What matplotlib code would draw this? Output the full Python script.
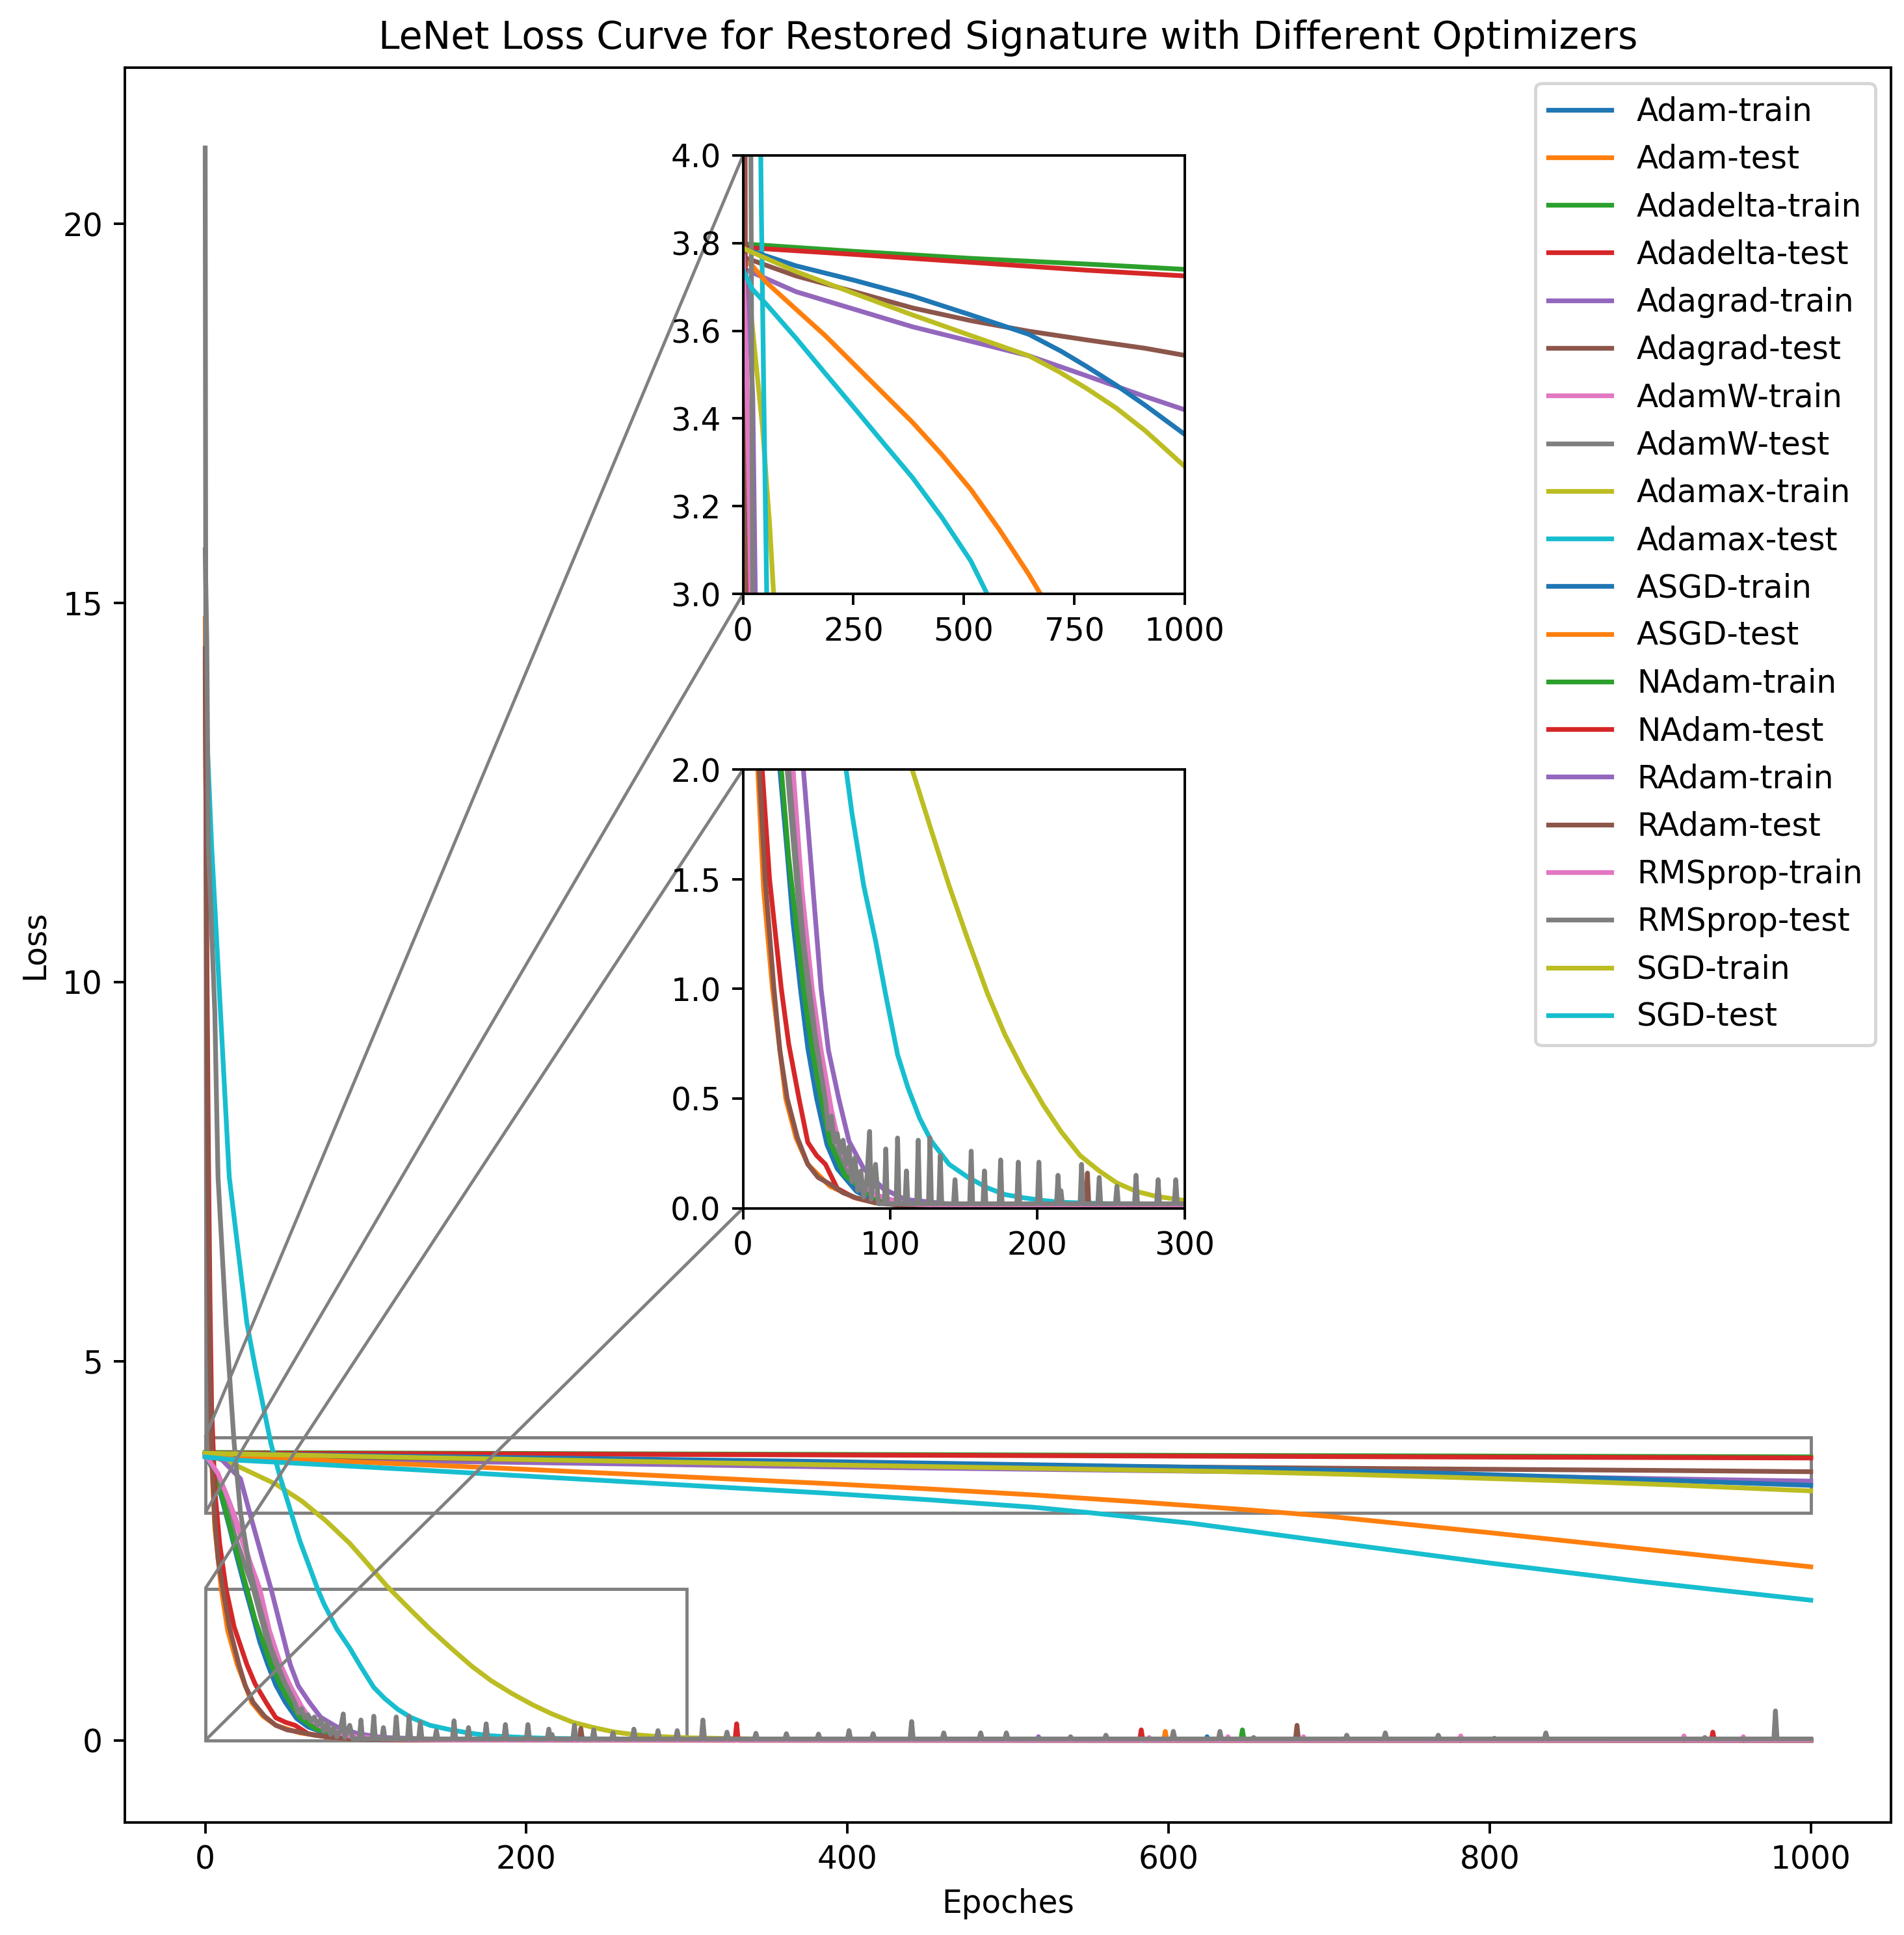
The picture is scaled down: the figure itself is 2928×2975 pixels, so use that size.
import matplotlib.pyplot as plt
from mpl_toolkits.axes_grid1.inset_locator import mark_inset

# loss values (epoch, loss) for each curve
adam_train_ep = [0, 5, 10, 15, 20, 25, 30, 34, 39, 44, 50, 57, 64, 77, 90, 110, 150, 1000]
adam_train_loss = [3.78, 3.56, 3.22, 2.82, 2.4, 2.0, 1.62, 1.3, 1.0, 0.73, 0.5, 0.29, 0.18, 0.077, 0.03, 0.012, 0.006, 0.003]
adam_train_spk = ([624], [0.05])

adam_test_ep = [0, 1, 2, 3, 4, 6, 10, 14, 20, 29, 36, 44, 59, 77, 90, 120, 1000]
adam_test_loss = [14.8, 9.3, 6.5, 4.8, 3.7, 2.8, 2.0, 1.45, 1.0, 0.5, 0.32, 0.2, 0.1, 0.045, 0.025, 0.012, 0.003]
adam_test_spk = ([598], [0.12])

adadelta_train_ep = [0, 252, 516, 779, 1000]
adadelta_train_loss = [3.798, 3.781, 3.765, 3.752, 3.740]

adadelta_test_ep = [0, 252, 516, 779, 1000]
adadelta_test_loss = [3.790, 3.774, 3.756, 3.738, 3.725]

adagrad_train_ep = [0, 120, 252, 384, 516, 647, 779, 911, 1000]
adagrad_train_loss = [3.742, 3.689, 3.649, 3.609, 3.576, 3.543, 3.497, 3.450, 3.420]

adagrad_test_ep = [0, 120, 252, 384, 516, 647, 779, 911, 1000]
adagrad_test_loss = [3.768, 3.725, 3.689, 3.652, 3.623, 3.599, 3.579, 3.560, 3.544]

adamw_train_ep = [0, 8, 15, 22, 28, 33, 40, 46, 52, 59, 64, 70, 77, 90, 110, 150, 1000]
adamw_train_loss = [3.77, 3.5, 3.1, 2.7, 2.3, 2.0, 1.4, 1.0, 0.75, 0.45, 0.3, 0.2, 0.14, 0.06, 0.02, 0.008, 0.004]
adamw_train_spk = ([588, 637, 684], [0.04, 0.05, 0.05])

adamw_test_ep = [0, 1, 10, 20, 30, 40, 50, 60, 75, 90, 120, 200, 1000]
adamw_test_loss = [21.0, 3.8, 3.3, 2.6, 2.0, 1.2, 0.6, 0.3, 0.12, 0.05, 0.015, 0.006, 0.003]

adamax_train_ep = [0, 19, 44, 60, 75, 90, 100, 113, 128, 140, 153, 166, 178, 191, 204, 216,
                   229, 242, 254, 267, 280, 299, 350, 400, 500, 1000]
adamax_train_loss = [3.78, 3.63, 3.38, 3.16, 2.9, 2.6, 2.36, 2.04, 1.72, 1.47, 1.22, 0.98, 0.79, 0.62, 0.47, 0.35,
                     0.24, 0.17, 0.115, 0.077, 0.055, 0.036, 0.018, 0.01, 0.005, 0.002]

adamax_test_ep = [0, 1, 4, 15, 26, 31, 41, 47, 59, 70, 74, 82, 90, 97, 105, 112, 120, 128, 140,
                  153, 166, 178, 191, 204, 216, 250, 300, 400, 600, 1000]
adamax_test_loss = [14.0, 13.3, 11.8, 7.43, 5.5, 4.94, 3.91, 3.45, 2.63, 2.0, 1.8, 1.47, 1.22, 0.97, 0.7, 0.55, 0.41, 0.305, 0.2,
                    0.14, 0.093, 0.062, 0.047, 0.035, 0.027, 0.02, 0.015, 0.01, 0.006, 0.004]

asgd_train_ep = [0, 120, 252, 384, 516, 647, 721, 779, 845, 911, 1000]
asgd_train_loss = [3.788, 3.748, 3.715, 3.679, 3.636, 3.592, 3.553, 3.518, 3.476, 3.430, 3.364]

asgd_test_ep = [0, 21, 54, 120, 186, 252, 318, 384, 450, 516, 581, 647, 700, 800, 893, 1000]
asgd_test_loss = [3.76, 3.748, 3.709, 3.649, 3.589, 3.523, 3.457, 3.391, 3.318, 3.238, 3.146, 3.045, 2.955, 2.74, 2.53,
                  2.29]

nadam_train_ep = [0, 5, 10, 15, 20, 26, 31, 36, 41, 47, 53, 59, 69, 90, 110, 150, 1000]
nadam_train_loss = [3.79, 3.58, 3.25, 2.85, 2.45, 2.0, 1.6, 1.3, 1.0, 0.72, 0.5, 0.3, 0.15, 0.04, 0.015, 0.006, 0.003]
nadam_train_spk = ([646], [0.14])

nadam_test_ep = [0, 1, 2, 3, 4, 6, 9, 13, 18, 26, 31, 38, 44, 50, 56, 64, 75, 90, 110, 150, 1000]
nadam_test_loss = [14.2, 10.5, 7.8, 5.8, 4.4, 3.3, 2.6, 2.0, 1.5, 1.0, 0.75, 0.5, 0.3, 0.24, 0.2, 0.09, 0.05, 0.025, 0.012, 0.006, 0.003]
nadam_test_spk = ([331, 583, 939], [0.22, 0.14, 0.11])

radam_train_ep = [0, 10, 22, 28, 35, 41, 47, 53, 58, 65, 72, 82, 95, 110, 150, 1000]
radam_train_loss = [3.76, 3.71, 3.45, 2.98, 2.45, 2.0, 1.5, 1.0, 0.72, 0.5, 0.305, 0.18, 0.09, 0.04, 0.012, 0.004]
radam_train_spk = ([519], [0.05])

radam_test_ep = [0, 1, 2, 3, 4, 6, 8, 11, 15, 21, 25, 30, 37, 44, 51, 59, 68, 77, 90, 110, 150, 250, 1000]
radam_test_loss = [14.4, 9.8, 6.9, 5.0, 3.8, 2.9, 2.4, 2.0, 1.5, 1.0, 0.72, 0.5, 0.32, 0.2, 0.14, 0.11, 0.07, 0.047, 0.024, 0.012, 0.006, 0.004, 0.003]
radam_test_spk = ([234, 680], [0.16, 0.2])

rmsprop_train_ep = [0, 8, 15, 22, 28, 34, 40, 47, 53, 60, 65, 71, 78, 90, 110, 150, 1000]
rmsprop_train_loss = [3.77, 3.52, 3.15, 2.75, 2.35, 2.0, 1.45, 1.0, 0.72, 0.45, 0.3, 0.2, 0.13, 0.06, 0.02, 0.008, 0.004]
rmsprop_train_spk = ([782, 921, 958], [0.06, 0.06, 0.05])

rmsprop_test_ep = [0, 1, 2, 6, 8, 13, 18, 22, 28, 31, 36, 41, 49, 56, 58, 60, 62, 64, 66, 68, 70,
                   72, 74, 76, 78, 80, 82, 84, 86, 87, 90, 92, 1000]
rmsprop_test_loss = [15.7, 14.5, 11.8, 9.6, 7.43, 5.5, 3.93, 3.0, 2.24, 2.0, 1.6, 1.22, 0.79, 0.49, 0.36, 0.42, 0.3, 0.34, 0.25, 0.31, 0.2,
                     0.28, 0.12, 0.23, 0.08, 0.17, 0.05, 0.12, 0.35, 0.04, 0.2, 0.02, 0.02]
rmsprop_test_spk = ([97, 105, 111, 119, 127, 134, 144, 155, 164, 175, 187, 201, 214, 216, 230, 242, 254, 267,
                     282, 294, 310, 325, 343, 362, 382, 401, 416, 440, 460, 483, 499, 539, 561, 603, 632,
                     653, 711, 735, 768, 803, 835, 934, 978],
                    [0.27, 0.32, 0.17, 0.31, 0.32, 0.24, 0.13, 0.26, 0.17, 0.22, 0.21, 0.21, 0.15, 0.08, 0.2, 0.14, 0.1, 0.15,
                     0.13, 0.13, 0.27, 0.11, 0.095, 0.09, 0.085, 0.13, 0.09, 0.25, 0.1, 0.1, 0.1, 0.05, 0.07, 0.12, 0.12,
                     0.04, 0.07, 0.1, 0.07, 0.03, 0.1, 0.04, 0.39])

sgd_train_ep = [0, 120, 252, 384, 516, 647, 713, 779, 845, 911, 1000]
sgd_train_loss = [3.788, 3.735, 3.685, 3.636, 3.589, 3.543, 3.508, 3.468, 3.424, 3.372, 3.291]

sgd_test_ep = [0, 21, 54, 120, 186, 252, 318, 384, 450, 516, 548, 614, 707, 800, 893, 1000]
sgd_test_loss = [3.738, 3.695, 3.659, 3.583, 3.503, 3.424, 3.344, 3.265, 3.175, 3.075, 3.01, 2.865, 2.60, 2.34, 2.10, 1.85]


def add_spikes(ep, loss, spk):
    # single-epoch spikes sitting on the curve's last (floor) value
    if spk is None:
        return ep, loss
    floor = loss[-1]
    pts = list(zip(ep, loss))
    for e, h in zip(*spk):
        pts += [(e - 1, floor), (e, h), (e + 1, floor)]
    pts.sort()
    return [p[0] for p in pts], [p[1] for p in pts]


curves = [
    ('Adam-train', adam_train_ep, adam_train_loss, adam_train_spk),
    ('Adam-test', adam_test_ep, adam_test_loss, adam_test_spk),
    ('Adadelta-train', adadelta_train_ep, adadelta_train_loss, None),
    ('Adadelta-test', adadelta_test_ep, adadelta_test_loss, None),
    ('Adagrad-train', adagrad_train_ep, adagrad_train_loss, None),
    ('Adagrad-test', adagrad_test_ep, adagrad_test_loss, None),
    ('AdamW-train', adamw_train_ep, adamw_train_loss, adamw_train_spk),
    ('AdamW-test', adamw_test_ep, adamw_test_loss, None),
    ('Adamax-train', adamax_train_ep, adamax_train_loss, None),
    ('Adamax-test', adamax_test_ep, adamax_test_loss, None),
    ('ASGD-train', asgd_train_ep, asgd_train_loss, None),
    ('ASGD-test', asgd_test_ep, asgd_test_loss, None),
    ('NAdam-train', nadam_train_ep, nadam_train_loss, nadam_train_spk),
    ('NAdam-test', nadam_test_ep, nadam_test_loss, nadam_test_spk),
    ('RAdam-train', radam_train_ep, radam_train_loss, radam_train_spk),
    ('RAdam-test', radam_test_ep, radam_test_loss, radam_test_spk),
    ('RMSprop-train', rmsprop_train_ep, rmsprop_train_loss, rmsprop_train_spk),
    ('RMSprop-test', rmsprop_test_ep, rmsprop_test_loss, rmsprop_test_spk),
    ('SGD-train', sgd_train_ep, sgd_train_loss, None),
    ('SGD-test', sgd_test_ep, sgd_test_loss, None),
]

dpi = 350
fig = plt.figure(figsize=(2928 / dpi, 2975 / dpi), dpi=dpi)
ax = fig.add_axes([0.0656, 0.0582, 0.9276, 0.9069])
axins1 = ax.inset_axes([0.35, 0.70, 0.25, 0.25])
axins2 = ax.inset_axes([0.35, 0.35, 0.25, 0.25])

for a in (ax, axins1, axins2):
    for name, ep, loss, spk in curves:
        x, y = add_spikes(ep, loss, spk)
        a.plot(x, y, label=name)

ax.set_xlim(-50, 1050)
ax.set_ylim(-1.08, 22.06)
axins1.set_xlim(0, 1000)
axins1.set_ylim(3.0, 4.0)
axins2.set_xlim(0, 300)
axins2.set_ylim(0.0, 2.0)

mark_inset(ax, axins1, loc1=2, loc2=3, fc='none', ec='0.5')
mark_inset(ax, axins2, loc1=2, loc2=3, fc='none', ec='0.5')

ax.set_title('LeNet Loss Curve for Restored Signature with Different Optimizers')
ax.set_xlabel('Epoches')
ax.set_ylabel('Loss')
ax.legend(loc='upper right', labelspacing=0.52)

fig.savefig('out.png', dpi=dpi)
